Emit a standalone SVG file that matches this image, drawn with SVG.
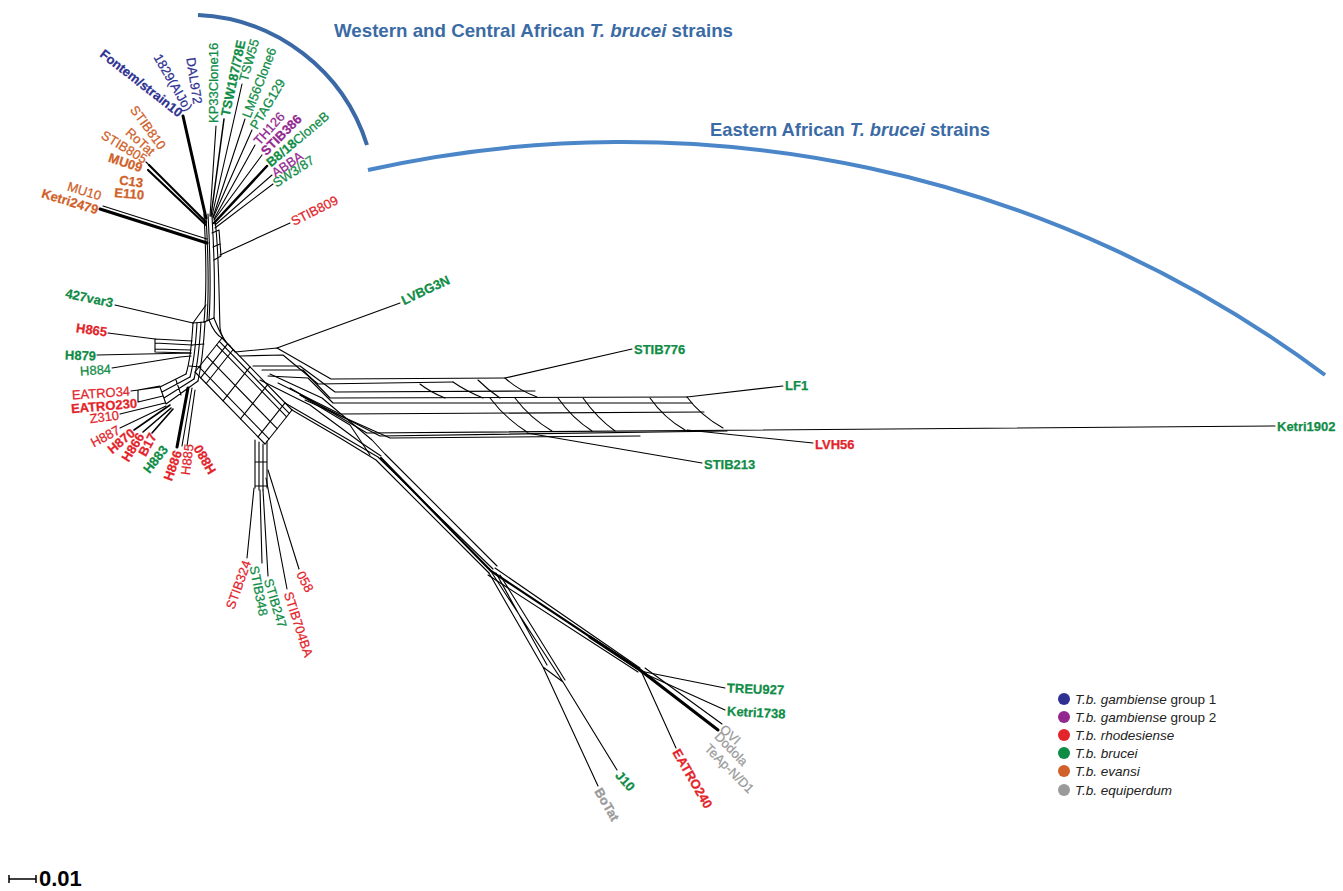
<svg xmlns="http://www.w3.org/2000/svg" width="1343" height="891" viewBox="0 0 1343 891">
<style>
.lab{font-family:"Liberation Sans",Arial,sans-serif;font-size:13px}
.lab text{stroke-width:0.25}
.b{font-weight:bold}
.bl{fill:#2e3192;stroke:#2e3192}.pu{fill:#92278f;stroke:#92278f}.rd{fill:#e3242b;stroke:#e3242b}.gr{fill:#0f8c46;stroke:#0f8c46}.or{fill:#d0612a;stroke:#d0612a}.gy{fill:#9a9a9a;stroke:#9a9a9a}
.e path{fill:none;stroke:#000;stroke-width:1.1;stroke-linejoin:round;stroke-linecap:round}
.e path.t{stroke-width:3}
.e path.m{stroke-width:2.2}
.title{font-family:"Liberation Sans",Arial,sans-serif;font-size:18.5px;font-weight:bold;fill:#3b6ba5}
.leg{font-family:"Liberation Sans",Arial,sans-serif;font-size:13.5px;fill:#222}
.arc{fill:none;stroke-width:4}
</style>
<rect width="1343" height="891" fill="#fff"/>

<g id="arcs">
<path class="arc" stroke="#3a69a5" d="M198,15 A186,186 0 0 1 367,145"/>
<path class="arc" stroke="#4a86c8" d="M368,170 A1174,1174 0 0 1 1325,375"/>
</g>
<g id="titles">
<text class="title" x="334" y="37" textLength="399" lengthAdjust="spacingAndGlyphs">Western and Central African <tspan font-style="italic">T. brucei</tspan> strains</text>
<text class="title" x="710" y="136" textLength="280" lengthAdjust="spacingAndGlyphs">Eastern African <tspan font-style="italic">T. brucei</tspan> strains</text>
</g>

<g id="connectors" class="e">
<!-- trunk -->
<path d="M204,214 C206,250 207,290 204,322"/>
<path d="M208,214 C210,250 211,290 209,320"/>
<path d="M212,216 C214,250 215,290 214,318"/>
<path d="M215,220 C219,250 219,300 220,328 C221,336 224,341 230,346"/>
<path d="M206,216 C208,250 209,290 207,321"/>
<path d="M212,233 L219,230 L221,256 L214,260"/>
<path d="M213,247 L220,244"/>
<path d="M204,322 L214,318"/>
<path d="M209,320 C213,330 218,336 222,338"/>
<path d="M214,318 C218,328 220,334 226,342"/>
<!-- top leaves -->
<path class="t" d="M183,116 L206,218"/>
<path d="M216,126 L210,216"/>
<path d="M224,119 L211,216" style="stroke-width:1.5"/>
<path d="M242,84 L212,216"/>
<path d="M245,119 L213,217"/>
<path d="M252,130 L213,218"/>
<path d="M255,145 L214,219"/>
<path d="M262,155 L214,220"/>
<path d="M267,166 L214,223" style="stroke-width:2.5"/>
<path d="M272,175 L215,225"/>
<path d="M273,184 L215,228"/>
<path class="m" d="M149,165 L206,222"/>
<path class="m" d="M148,170 L206,225"/>
<path d="M146,162 L152,168"/>
<path class="t" d="M100,209 L207,243"/>
<path d="M103,206 L207,239"/>
<path d="M290,223 L220,255"/>
<!-- left web -->
<path d="M193,323 L206,305"/>
<path d="M193,323 C192,340 191,358 186,374"/>
<path d="M197,323 C196,340 195,358 190,377"/>
<path d="M201,322 C200,340 199,358 194,379"/>
<path d="M205,322 C204,340 203,358 198,381"/>
<path d="M193,323 L205,322"/>
<path d="M192,345 L204,344"/>
<path d="M189,366 L201,367"/>
<path d="M115,305 L193,323"/>
<path d="M108,333 L155,339"/>
<path d="M155,339 L192,341 M155,343 L192,345 M155,349 L191,350 M155,352 L191,353 M155,339 L155,352"/>
<path d="M97,355 L191,353"/>
<path d="M112,368 L180,357 L191,356"/>
<!-- lower-left -->
<path d="M186,374 L160,387 M190,377 L162,392 M194,379 L164,398 M198,381 L166,404 M160,387 L166,404 M176,380 L181,395"/>
<path d="M131,391 L160,387 M138,390 L160,386 M138,402 L163,396 M138,390 L138,402"/>
<path d="M120,414 L165,403"/>
<path d="M120,428 L166,406"/>
<path d="M134,430 L170,405" style="stroke-width:1.6"/>
<path d="M143,432 L171,408 M152,433 L173,409" style="stroke-width:1.6"/>
<path class="t" d="M177,447 L188,388"/>
<path d="M182,446 L192,388 M187,446 L195,390"/>
<!-- central square -->
<path d="M222,338 L292,410 M219.3,341.4 L289.3,413.4 M216.6,344.8 L286.6,416.8 M207.2,356.7 L277.2,428.7 M199,366.9 L269,438.9 M195,372 L265,444"/>
<path d="M222,338 L195,372 M227.6,343.8 L200.6,377.8 M233.2,349.5 L206.2,383.5 M250,366.8 L223,400.8 M267.5,384.8 L240.5,418.8 M285,402.8 L258,436.8 M292,410 L265,444"/>
<!-- down bundle -->
<path d="M255,440 L255,488 M259,442 L259,490 M263,444 L263,490 M267,441 L267,488 M255,462 L267,462 M255,486 L267,486"/>
<path d="M254,488 L247,558 M260,490 L262,563 M263,490 L268,576 M266,478 L287,589 M268,470 L299,569"/>
<!-- down-right bundle -->
<path d="M285,403 L335,432 L378,457 L493,569"/>
<path d="M292,410 L340,438 L376,460 L489,573"/>
<path d="M260,380 L310,405 L360,442 L381,456"/>
<path d="M270,374 L322,398 L372,440 L385,454 L497,566"/>
<path d="M300,395 L350,425 L370,455"/>
<path class="m" d="M381,458 L491,571 L640,670"/>
<path class="t" d="M590,637 L640,670 L718,730"/>
<path d="M495,568 L640,668 M488,575 L638,672 M645,668 L722,724"/>
<path d="M489,573 L543,667 L598,786 M492,573 L563,682 L617,770 M496,573 L547,665 M500,575 L565,680 M543,667 L563,682"/>
<path d="M640,671 L725,688 M641,672 L725,710 M642,673 L676,748"/>
<!-- eastern band -->
<path d="M230,346 L235,352 L277,348 L331,379 L505,378"/>
<path d="M277,348 L400,303"/>
<path d="M505,378 L632,349"/>
<path d="M240,356 L283,355 L318,384 L453,382"/>
<path d="M253,366 L300,366 L335,392 L535,391"/>
<path d="M262,370 L303,370 L330,398 L687,397"/>
<path d="M268,376 L308,378 L333,403 L692,403"/>
<path d="M278,383 L340,414 L704,412"/>
<path d="M290,388 L367,433 L1275,426"/>
<path d="M300,395 L380,436 L727,431"/>
<path d="M305,400 L390,438 L640,436"/>
<path d="M687,397 L783,386 M687,430 L813,443 M527,433 L702,463"/>
<path d="M420,384 Q430,392 445,398 M453,382 Q466,391 483,398 M478,380 Q488,390 500,398 M505,378 Q518,390 537,397"/>
<path d="M490,398 Q505,418 527,432 M515,398 Q530,418 552,431 M558,398 Q572,418 592,431 M583,398 Q597,418 615,431 M650,398 Q664,418 685,430 M687,397 Q700,415 723,428"/>
</g>

<g id="labels" class="lab">
<g id="n-fontem"><text class="bl b" text-anchor="end" dy=".35em" transform="translate(181,114) rotate(38)">Fontem/strain10</text></g>
<g id="n-1829"><text class="bl" text-anchor="end" dy=".35em" transform="translate(189,110) rotate(60)">1829(AIJo)</text></g>
<g id="n-dal972"><text class="bl" text-anchor="end" dy=".35em" transform="translate(198,104) rotate(81)">DAL972</text></g>
<g id="n-kp33"><text class="gr" dy=".35em" transform="translate(213,123) rotate(-90)">KP33Clone16</text></g>
<g id="n-tsw187"><text class="gr b" dy=".35em" transform="translate(225,116) rotate(-78)">TSW187/78E</text></g>
<g id="n-tsw55"><text class="gr" dy=".35em" transform="translate(243,81) rotate(-74)">TSW55</text></g>
<g id="n-lm56"><text class="gr" dy=".35em" transform="translate(246,117) rotate(-69)">LM56Clone6</text></g>
<g id="n-ptag"><text class="gr" dy=".35em" transform="translate(253,128) rotate(-59)">PTAG129</text></g>
<g id="n-th126"><text class="pu" dy=".35em" transform="translate(256,143) rotate(-48)">TH126</text></g>
<g id="n-stib386"><text class="pu b" dy=".35em" transform="translate(263,153) rotate(-45)">STIB386</text></g>
<g id="n-b818"><text class="gr" dy=".35em" transform="translate(268,164) rotate(-40)"><tspan class="b">B8/18</tspan>CloneB</text></g>
<g id="n-abba"><text class="pu" dy=".35em" transform="translate(273,174) rotate(-34)">ABBA</text></g>
<g id="n-sw387"><text class="gr" dy=".35em" transform="translate(274,184) rotate(-33)">SW3/87</text></g>
<g id="n-stib809"><text class="rd" dy=".35em" transform="translate(292,222) rotate(-27)">STIB809</text></g>

<g id="n-stib810"><text class="or" text-anchor="end" dy=".35em" transform="translate(163,148) rotate(54)">STIB810</text></g>
<g id="n-rotat"><text class="or" text-anchor="end" dy=".35em" transform="translate(153,153) rotate(42)">RoTat</text></g>
<g id="n-stib805"><text class="or" text-anchor="end" dy=".35em" transform="translate(146,160) rotate(31)">STIB805</text></g>
<g id="n-mu09"><text class="or b" text-anchor="end" dy=".35em" transform="translate(142,168) rotate(18)">MU09</text></g>
<g id="n-c13"><text class="or b" text-anchor="end" dy=".35em" transform="translate(143,183) rotate(8)">C13</text></g>
<g id="n-e110"><text class="or b" text-anchor="end" dy=".35em" transform="translate(144,195) rotate(5)">E110</text></g>
<g id="n-mu10"><text class="or" text-anchor="end" dy=".35em" transform="translate(101,196) rotate(17)">MU10</text></g>
<g id="n-ketri2479"><text class="or b" text-anchor="end" dy=".35em" transform="translate(98,210) rotate(17)">Ketri2479</text></g>

<g id="n-427"><text class="gr b" text-anchor="end" dy=".35em" transform="translate(113,303) rotate(12)">427var3</text></g>
<g id="n-h865"><text class="rd b" text-anchor="end" dy=".35em" transform="translate(107,332) rotate(8)">H865</text></g>
<g id="n-h879"><text class="gr b" text-anchor="end" dy=".35em" transform="translate(96,356) rotate(2)">H879</text></g>
<g id="n-h884"><text class="gr" text-anchor="end" dy=".35em" transform="translate(111,369) rotate(-4)">H884</text></g>
<g id="n-eatro34"><text class="rd" text-anchor="end" dy=".35em" transform="translate(130,391) rotate(-4)">EATRO34</text></g>
<g id="n-eatro230"><text class="rd b" text-anchor="end" dy=".35em" transform="translate(137,403) rotate(-5)">EATRO230</text></g>
<g id="n-z310"><text class="rd" text-anchor="end" dy=".35em" transform="translate(119,415) rotate(-7)">Z310</text></g>
<g id="n-h887"><text class="rd" text-anchor="end" dy=".35em" transform="translate(119,429) rotate(-28)">H887</text></g>
<g id="n-h870"><text class="rd b" text-anchor="end" dy=".35em" transform="translate(133,431) rotate(-40)">H870</text></g>
<g id="n-h866"><text class="rd b" text-anchor="end" dy=".35em" transform="translate(141,434) rotate(-58)">H866</text></g>
<g id="n-b17"><text class="rd b" text-anchor="end" dy=".35em" transform="translate(153,434) rotate(-62)">B17</text></g>
<g id="n-h883"><text class="gr b" text-anchor="end" dy=".35em" transform="translate(165,447) rotate(-52)">H883</text></g>
<g id="n-h886"><text class="rd b" text-anchor="end" dy=".35em" transform="translate(178,451) rotate(-70)">H886</text></g>
<g id="n-h885"><text class="rd" text-anchor="end" dy=".35em" transform="translate(189,444) rotate(-83)">H885</text></g>
<g id="n-h880"><text class="rd b" text-anchor="end" dy=".35em" transform="translate(197,446) rotate(-120)">H880</text></g>

<g id="n-stib324"><text class="rd" text-anchor="end" dy=".35em" transform="translate(247,561) rotate(-70)">STIB324</text></g>
<g id="n-stib348"><text class="gr" dy=".35em" transform="translate(254,566) rotate(79)">STIB348</text></g>
<g id="n-stib247"><text class="gr" dy=".35em" transform="translate(268,579) rotate(73)">STIB247</text></g>
<g id="n-stib704"><text class="rd" dy=".35em" transform="translate(288,592) rotate(72)">STIB704BA</text></g>
<g id="n-058"><text class="rd" dy=".35em" transform="translate(300,572) rotate(62)">058</text></g>

<g id="n-botat"><text class="gy b" dy=".35em" transform="translate(598,789) rotate(60)">BoTat</text></g>
<g id="n-j10"><text class="gr b" dy=".35em" transform="translate(618,773) rotate(48)">J10</text></g>
<g id="n-eatro240"><text class="rd b" dy=".35em" transform="translate(676,750) rotate(60)">EATRO240</text></g>
<g id="n-ovi"><text class="gy" dy=".35em" transform="translate(722,727) rotate(42)">OVI</text></g>
<g id="n-dodola"><text class="gy" dy=".35em" transform="translate(717,734) rotate(46)">Dodola</text></g>
<g id="n-teap"><text class="gy" dy=".35em" transform="translate(707,746) rotate(45)">TeAp-N/D1</text></g>
<g id="n-treu927"><text class="gr b" dy=".35em" transform="translate(727,688) rotate(2)">TREU927</text></g>
<g id="n-ketri1738"><text class="gr b" dy=".35em" transform="translate(727,711) rotate(3)">Ketri1738</text></g>

<g id="n-lvbg3n"><text class="gr b" dy=".35em" transform="translate(402,301) rotate(-25)">LVBG3N</text></g>
<g id="n-stib776"><text class="gr b" dy=".35em" x="634" y="349">STIB776</text></g>
<g id="n-lf1"><text class="gr b" dy=".35em" x="785" y="385">LF1</text></g>
<g id="n-ketri1902"><text class="gr b" dy=".35em" x="1277" y="426">Ketri1902</text></g>
<g id="n-lvh56"><text class="rd b" dy=".35em" x="815" y="444">LVH56</text></g>
<g id="n-stib213"><text class="gr b" dy=".35em" x="704" y="464">STIB213</text></g>
</g>

<g id="legend">
<circle cx="1064" cy="699" r="6" fill="#2e3192"/>
<circle cx="1064" cy="717" r="6" fill="#92278f"/>
<circle cx="1064" cy="735" r="6" fill="#e3242b"/>
<circle cx="1064" cy="753" r="6" fill="#0f8c46"/>
<circle cx="1064" cy="771" r="6" fill="#d0612a"/>
<circle cx="1064" cy="790" r="6" fill="#9a9a9a"/>
<text class="leg" x="1075" y="704"><tspan font-style="italic">T.b. gambiense</tspan> group 1</text>
<text class="leg" x="1075" y="722"><tspan font-style="italic">T.b. gambiense</tspan> group 2</text>
<text class="leg" x="1075" y="740" font-style="italic">T.b. rhodesiense</text>
<text class="leg" x="1075" y="758" font-style="italic">T.b. brucei</text>
<text class="leg" x="1075" y="776" font-style="italic">T.b. evansi</text>
<text class="leg" x="1075" y="795" font-style="italic">T.b. equiperdum</text>
</g>

<g id="scale">
<path d="M9,879 L36,879 M9,875 L9,883 M36,875 L36,883" stroke="#000" stroke-width="1.5" fill="none"/>
<text x="39" y="886" font-family="Liberation Sans, Arial, sans-serif" font-size="22" font-weight="bold">0.01</text>
</g>
</svg>
